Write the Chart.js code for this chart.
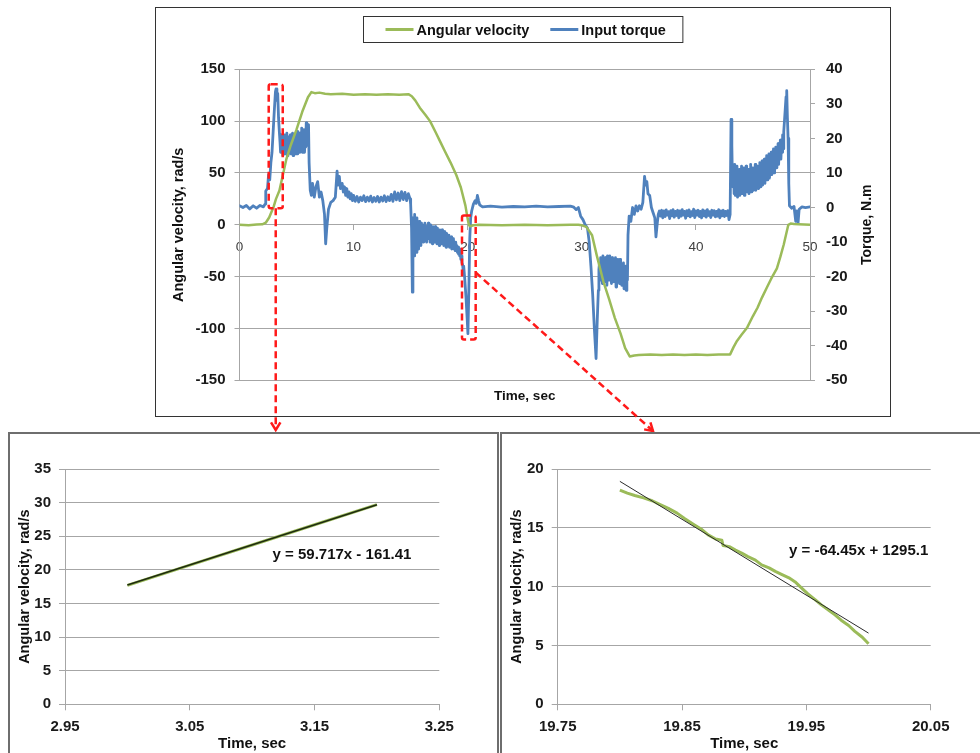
<!DOCTYPE html>
<html>
<head>
<meta charset="utf-8">
<script src="https://cdn.jsdelivr.net/npm/chart.js@4.4.1/dist/chart.umd.min.js"></script>
<style>
  html, body { margin: 0; padding: 0; background: #fff; width: 980px; height: 753px; overflow: hidden; }
  canvas { position: absolute; }
  .box { position: absolute; top: 432px; height: 340px; box-sizing: border-box; border: 2px solid #6e6e6e; }
  #leftBox { left: 8px; width: 491px; }
  #rightBox { left: 500px; width: 500px; }
</style>
</head>
<body>
<div class="box" id="leftBox"></div>
<div class="box" id="rightBox"></div>
<canvas id="mainChart" width="980" height="432" style="left:0;top:0"></canvas>
<canvas id="insetA" width="488" height="320" style="left:9px;top:433px"></canvas>
<canvas id="insetB" width="479" height="320" style="left:501px;top:433px"></canvas>
<script>
// ---- main chart data: [time s, value] ----
const velocityPoints = [[0, 0], [0.8, -0.5], [1.5, 0.3], [2.0, 0.5], [2.3, 2], [2.6, 7], [2.9, 15], [3.0, 17.7], [3.2, 25], [3.5, 33], [3.8, 48], [4.1, 63], [4.5, 77], [5.0, 92], [5.5, 109], [6.0, 123], [6.3, 128], [6.6, 127], [7.0, 127.5], [7.5, 126.5], [8.0, 126], [9.0, 126.5], [10.0, 125.5], [11.0, 126], [12.0, 125.5], [13.0, 126], [14.0, 125.5], [14.8, 126], [15.1, 124], [15.4, 120], [15.8, 113], [16.3, 106], [16.7, 100], [17.2, 89], [17.6, 80], [18.0, 71], [18.5, 60], [19.0, 48], [19.4, 36], [19.8, 18.5], [20.0, 5.5], [20.1, 0], [20.2, -1.5], [20.5, -0.5], [21.0, 0], [23.0, -0.5], [25.0, 0], [27.0, -0.5], [29.0, 0], [29.7, 0], [30.0, -0.5], [30.4, -2], [30.9, -10], [31.3, -29], [31.9, -55], [32.4, -72], [32.9, -90], [33.4, -105], [33.8, -119], [34.2, -127], [34.6, -126], [35.0, -125.5], [36.0, -125], [37.0, -125.5], [38.0, -125], [39.0, -125.5], [40.0, -125], [41.0, -125.5], [42.0, -125], [43.0, -125], [43.3, -118], [43.6, -112], [44.0, -106], [44.5, -99], [45.0, -88], [45.4, -80], [45.8, -70], [46.2, -61], [46.6, -52], [47.1, -42], [47.4, -31], [47.7, -19], [48.1, 0], [48.3, 1.2], [48.6, 0.8], [49.0, 0.5], [49.5, 0.2], [50.0, 0]]

const torquePoints = [
  [0.0, 0.5], [0.3, 0.0], [0.6, 0.6], [0.9, -0.4], [1.2, 0.5], [1.5, -0.2], [1.8, 0.6], [2.1, 0.2], [2.25, 1.0], [2.3, 4.8], [2.45, 5.5], [2.55, 9.5], [2.65, 8.0], [2.75, 13.0], [2.85, 16.0], [2.95, 22.0], [3.05, 28.0], [3.15, 33.5], [3.2, 34.3], [3.28, 31.0], [3.35, 33.0], [3.42, 26.0], [3.5, 21.5],
  [3.55, 19], [3.6, 16], [3.65, 21], [3.7, 17], [3.75, 20.5], [3.8, 15], [3.85, 19], [3.9, 16.5], [3.95, 21], [4.0, 15.5], [4.05, 20], [4.1, 17], [4.15, 21.5], [4.2, 15], [4.25, 19.5], [4.3, 16], [4.35, 20.5], [4.4, 16.5], [4.45, 21], [4.5, 15.5], [4.55, 20], [4.6, 17], [4.65, 21.5], [4.7, 15], [4.75, 20], [4.8, 16], [4.85, 21], [4.9, 15.5], [4.95, 19.5], [5.0, 16.5], [5.05, 22], [5.1, 15.5], [5.15, 20.5], [5.2, 17], [5.25, 21.5], [5.3, 16], [5.35, 20], [5.4, 16.5], [5.45, 23], [5.5, 16], [5.55, 21], [5.6, 17], [5.65, 22.5], [5.7, 16], [5.75, 21], [5.8, 17.5], [5.85, 24.5], [5.9, 18], [5.95, 22],
  [6.0, 21], [6.05, 24], [6.1, 13], [6.2, 5], [6.3, 3.5], [6.4, 7], [6.55, 3], [6.7, 6], [6.85, 7.5], [7.0, 3], [7.15, 4.5], [7.3, 2], [7.45, -2], [7.55, -10.5], [7.65, -6], [7.8, -0.5], [8.0, 1.5], [8.2, 2], [8.4, 3], [8.55, 10.5], [8.65, 6.5], [8.75, 9], [8.85, 5.5], [9.0, 7], [9.1, 4.5], [9.2, 6], [9.3, 3.5], [9.4, 5.5], [9.5, 3], [9.6, 4.5], [9.7, 2.5], [9.8, 4], [9.9, 2], [10.0, 3.5],
  [10.15, 1.8], [10.3, 3.2], [10.45, 1.6], [10.6, 3], [10.75, 2], [10.9, 3.4], [11.05, 1.7], [11.2, 3], [11.35, 1.9], [11.5, 3.3], [11.65, 1.6], [11.8, 2.9], [11.95, 1.8], [12.1, 3.2], [12.25, 1.6], [12.4, 3], [12.55, 1.9], [12.7, 3.4], [12.85, 1.7], [13.0, 3.1], [13.15, 2], [13.3, 3.8], [13.45, 1.8], [13.6, 4.5], [13.75, 2.2], [13.9, 4.2], [14.05, 2], [14.2, 4.6], [14.35, 2.3], [14.5, 4.4], [14.65, 2], [14.8, 4], [14.95, 2.5], [15.0, 1.0], [15.08, -6], [15.15, -24.5], [15.2, -3],
  [15.25, -3], [15.3, -14], [15.35, -2], [15.4, -12], [15.45, -4], [15.5, -13], [15.55, -3], [15.6, -10], [15.65, -5], [15.7, -12], [15.75, -4], [15.8, -10.5], [15.85, -5.5], [15.9, -11], [15.95, -4.5], [16.0, -9.5], [16.05, -5], [16.1, -10], [16.15, -6], [16.2, -9], [16.25, -4.5], [16.3, -9.5], [16.35, -5.5], [16.4, -10], [16.45, -6], [16.5, -8.5], [16.55, -4.5], [16.6, -9], [16.65, -6.5], [16.7, -10], [16.75, -5], [16.8, -9], [16.85, -6], [16.9, -10.5], [16.95, -5.5], [17.0, -9], [17.05, -6.5], [17.1, -10], [17.15, -5.5], [17.2, -9.5], [17.25, -7], [17.3, -10.5], [17.35, -6], [17.4, -9.5], [17.45, -7], [17.5, -11], [17.55, -6.5], [17.6, -10], [17.65, -7.5], [17.7, -10.5], [17.75, -6.5], [17.8, -10], [17.85, -8], [17.9, -11], [17.95, -7], [18.0, -10.5], [18.05, -8], [18.1, -11.5], [18.15, -7.5], [18.2, -10.5], [18.25, -8.5], [18.3, -11], [18.35, -8], [18.4, -11.5], [18.45, -9], [18.5, -11], [18.55, -8.5], [18.6, -12], [18.65, -9.5], [18.7, -11.5], [18.75, -9], [18.8, -12], [18.85, -10], [18.9, -12.5], [18.95, -10], [19.0, -12], [19.05, -11], [19.1, -13], [19.15, -11.5], [19.2, -13.5], [19.25, -12], [19.3, -14], [19.35, -13], [19.4, -15], [19.45, -14], [19.5, -16], [19.55, -16.5], [19.6, -18],
  [19.65, -17], [19.75, -21], [19.85, -26], [19.95, -32], [20.02, -36.5], [20.1, -24], [20.18, -9], [20.26, -3], [20.35, -1], [20.5, 1], [20.65, 2], [20.75, 1.2], [20.85, 3.5], [20.95, 2], [21.05, 0.8], [21.3, 0.2], [22, 0.4], [23, 0.1], [24, 0.3], [25, 0.2], [26, 0.4], [27, 0.2], [28, 0.3], [29, 0.4], [29.3, 0.1], [29.5, -0.6], [29.7, 0], [29.9, -2.5], [30.1, -3.5], [30.3, -5], [30.5, -6], [30.65, -10], [30.8, -17], [30.95, -25], [31.1, -35], [31.25, -43.7], [31.35, -33], [31.45, -24], [31.5, -18],
  [31.55, -16], [31.6, -21], [31.65, -14.5], [31.7, -20], [31.75, -15.5], [31.8, -22], [31.85, -14], [31.9, -19.5], [31.95, -16], [32.0, -21.5], [32.05, -14.5], [32.1, -20], [32.15, -15], [32.2, -22.5], [32.25, -14], [32.3, -19], [32.35, -16], [32.4, -21], [32.45, -14], [32.5, -20.5], [32.55, -15.5], [32.6, -22], [32.65, -14.5], [32.7, -19.5], [32.75, -16], [32.8, -21.5], [32.85, -15], [32.9, -20], [32.95, -14.5], [33.0, -23], [33.05, -16], [33.1, -20.5], [33.15, -15], [33.2, -21.5], [33.25, -16.5], [33.3, -22], [33.35, -15], [33.4, -20], [33.45, -16.5], [33.5, -22.5], [33.55, -17], [33.6, -21], [33.65, -16], [33.7, -23.5], [33.75, -17.5], [33.8, -22], [33.85, -17], [33.9, -24], [33.95, -18], [34.0, -21],
  [34.05, -8], [34.15, -2.5], [34.3, -4], [34.45, 0], [34.6, -2], [34.75, 0.5], [34.9, -1], [35.05, 0.5], [35.2, -0.5], [35.35, 1.5], [35.5, 9], [35.6, 6.5], [35.7, 7.5], [35.8, 4], [35.95, 3.5], [36.1, 0], [36.25, -1.5], [36.4, -3], [36.5, -8.5], [36.6, -5], [36.7, -2], [36.8, -1],
  [36.9, -2.5], [37.0, -0.8], [37.1, -3], [37.2, -1], [37.3, -2.6], [37.4, -0.7], [37.5, -2.2], [37.6, -1.2], [37.7, -3.2], [37.8, -0.9], [37.9, -2.4], [38.0, -0.6], [38.1, -2.8], [38.2, -1.1], [38.3, -2.3], [38.4, -0.8], [38.5, -3.0], [38.6, -1.0], [38.7, -2.5], [38.8, -0.6], [38.9, -2.2], [39.0, -1.1], [39.1, -3.1], [39.2, -0.9], [39.3, -2.4], [39.4, -0.7], [39.5, -2.7], [39.6, -1.2], [39.7, -2.3], [39.8, -0.5], [39.9, -2.9], [40.0, -1.0], [40.1, -2.2], [40.2, -0.8], [40.3, -2.6], [40.4, -1.1], [40.5, -3.0], [40.6, -0.7], [40.7, -2.4], [40.8, -1.0], [40.9, -2.8], [41.0, -0.6], [41.1, -2.3], [41.2, -1.2], [41.3, -2.9], [41.4, -0.8], [41.5, -2.2], [41.6, -0.9], [41.7, -2.7], [41.8, -1.1], [41.9, -2.5], [42.0, -0.6], [42.1, -3.0], [42.2, -1.0], [42.3, -2.4], [42.4, -0.8], [42.5, -2.6], [42.6, -1.1], [42.7, -2.3], [42.8, -0.9], [42.9, -3.5],
  [43.0, -2], [43.08, 25.5], [43.15, 18], [43.2, 8],
  [43.25, 6], [43.3, 11], [43.35, 4], [43.4, 12.5], [43.45, 3.5], [43.5, 10], [43.55, 5], [43.6, 12], [43.65, 3], [43.7, 9.5], [43.75, 4.5], [43.8, 11], [43.85, 3.5], [43.9, 10.5], [43.95, 5], [44.0, 12], [44.05, 4], [44.1, 9], [44.15, 5.5], [44.2, 11.5], [44.25, 3.5], [44.3, 10], [44.35, 5], [44.4, 12], [44.45, 4.5], [44.5, 9.5], [44.55, 5.5], [44.6, 11], [44.65, 4], [44.7, 10.5], [44.75, 6], [44.8, 12.5], [44.85, 4.5], [44.9, 10], [44.95, 5.5], [45.0, 11.5], [45.05, 5], [45.1, 10], [45.15, 6.5], [45.2, 12.5], [45.25, 5], [45.3, 11], [45.35, 6], [45.4, 12], [45.45, 5.5], [45.5, 10.5], [45.55, 7], [45.6, 13], [45.65, 6], [45.7, 11.5], [45.75, 7], [45.8, 13.5], [45.85, 6.5], [45.9, 12], [45.95, 8], [46.0, 14], [46.05, 7], [46.1, 12.5], [46.15, 8.5], [46.2, 15], [46.25, 8], [46.3, 13], [46.35, 9], [46.4, 15.5], [46.45, 8.5], [46.5, 14], [46.55, 10], [46.6, 16], [46.65, 9.5], [46.7, 14.5], [46.75, 11], [46.8, 17], [46.85, 10], [46.9, 15.5], [46.95, 12], [47.0, 17.5], [47.05, 11.5], [47.1, 16], [47.15, 13], [47.2, 18.5], [47.25, 12.5], [47.3, 17], [47.35, 14], [47.4, 19.5], [47.45, 14], [47.5, 18], [47.55, 16], [47.6, 21], [47.65, 17],
  [47.7, 22], [47.8, 27], [47.9, 32], [47.96, 33.8], [48.02, 26], [48.08, 20], [48.14, 7], [48.2, 0.5], [48.4, -0.2], [48.6, 0.3], [48.75, -4], [48.85, -1], [48.95, -4.5], [49.05, -0.5], [49.3, 0.2], [49.6, 0], [50, 0.2],
]

// zoomed windows marked on the main chart (time, angular velocity)
const zoomWindows = [
  { t0: 2.56, t1: 3.79, v0: 16, v1: 135.6, exitV: null },
  { t0: 19.5, t1: 20.7, v0: -110.7, v1: 9, exitV: -46 },
]

// ---- inset A: 2.95 - 3.25 s ----
const fitTimeA = [3.00, 3.05, 3.10, 3.15, 3.20]
const fitVelA = [17.7, 20.7, 23.7, 26.7, 29.7]
const trendTimeA = [3.00, 3.20]
const trendVelA = [17.74, 29.68]
const eqA = 'y = 59.717x - 161.41'

// ---- inset B: 19.75 - 20.05 s ----
const fitTimeB = [19.800, 19.806, 19.812, 19.819, 19.826, 19.832, 19.839, 19.846, 19.852, 19.860, 19.866, 19.871, 19.877, 19.882, 19.883, 19.888, 19.893, 19.898, 19.903, 19.909, 19.914, 19.920, 19.925, 19.930, 19.936, 19.941, 19.946, 19.951, 19.957, 19.962, 19.968, 19.973, 19.978, 19.984, 19.989, 19.995, 20.000]
const fitVelB = [18.2, 17.95, 17.75, 17.55, 17.3, 17.0, 16.65, 16.25, 15.8, 15.25, 14.85, 14.4, 14.05, 13.95, 13.5, 13.4, 13.1, 12.85, 12.55, 12.25, 11.85, 11.6, 11.3, 11.05, 10.75, 10.4, 9.9, 9.4, 8.9, 8.45, 8.0, 7.6, 7.15, 6.7, 6.2, 5.7, 5.15]
const trendTimeB = [19.80, 20.00]
const trendVelB = [18.95, 6.05]
const eqB = 'y = -64.45x + 1295.1'

const FONT = '"Liberation Sans", Arial, sans-serif'
const green = 'rgb(155, 187, 89)'
const blue = 'rgb(79, 129, 189)'
const gridColor = '#a6a6a6'
const tickColor = '#1a1a1a'

Chart.defaults.font.family = FONT
Chart.defaults.color = tickColor

const pts = (xs, ys) => xs.map((x, i) => ({ x, y: ys[i] }))
const pairs = list => list.map(([x, y]) => ({ x, y }))

function arrowHead(ctx, x0, y0, x1, y1) {
  const a = Math.atan2(y1 - y0, x1 - x0)
  const len = 9
  ctx.setLineDash([])
  ctx.beginPath()
  ctx.moveTo(x1 - len * Math.cos(a - 0.55), y1 - len * Math.sin(a - 0.55))
  ctx.lineTo(x1, y1)
  ctx.lineTo(x1 - len * Math.cos(a + 0.55), y1 - len * Math.sin(a + 0.55))
  ctx.stroke()
}

const mainOverlay = {
  id: 'mainOverlay',
  afterDraw(chart) {
    const ctx = chart.ctx
    const { x, y } = chart.scales
    const area = chart.chartArea
    ctx.save()

    // outer frame
    ctx.strokeStyle = '#333'
    ctx.lineWidth = 1
    ctx.strokeRect(155.5, 7.5, 735, 409)

    // legend with a frame
    ctx.font = 'bold 14.5px ' + FONT
    ctx.textBaseline = 'middle'
    ctx.textAlign = 'left'
    const items = chart.data.datasets.map(ds => ({ label: ds.label, color: ds.borderColor, w: ctx.measureText(ds.label).width }))
    const sample = 28, gap = 3, itemGap = 21, padL = 22, padR = 17
    let total = padL + padR + itemGap * (items.length - 1)
    items.forEach(it => { total += sample + gap + it.w })
    const bx = Math.round(523 - total / 2) + 0.5
    const by = 16.5, bh = 26
    ctx.strokeStyle = '#333'
    ctx.lineWidth = 1
    ctx.strokeRect(bx, by, total, bh)
    let lx = bx + padL
    const ly = by + bh / 2
    items.forEach(it => {
      ctx.strokeStyle = it.color
      ctx.lineWidth = 3
      ctx.beginPath()
      ctx.moveTo(lx, ly)
      ctx.lineTo(lx + sample, ly)
      ctx.stroke()
      ctx.fillStyle = '#111'
      ctx.fillText(it.label, lx + sample + gap, ly + 1)
      lx += sample + gap + it.w + itemGap
    })

    // right axis title, reading bottom to top
    ctx.font = 'bold 14px ' + FONT
    ctx.save()
    ctx.translate(867, (area.top + area.bottom) / 2)
    ctx.rotate(-Math.PI / 2)
    ctx.textAlign = 'center'
    ctx.fillStyle = '#111'
    ctx.fillText('Torque, N.m', 0, 0)
    ctx.restore()

    // red dashed zoom windows and arrows
    ctx.strokeStyle = '#ff1a1a'
    ctx.lineWidth = 2.5
    const tips = [[null, chart.height - 2], [653, chart.height - 1]]
    zoomWindows.forEach((w, i) => {
      const l = x.getPixelForValue(w.t0), r = x.getPixelForValue(w.t1)
      const t = y.getPixelForValue(w.v1), b = y.getPixelForValue(w.v0)
      ctx.setLineDash([7, 4])
      ctx.beginPath()
      ctx.roundRect(l, t, r - l, b - t, 2)
      ctx.stroke()
      let sx, sy, ex, ey
      if (w.exitV === null) {
        sx = (l + r) / 2; sy = b; ex = sx; ey = tips[i][1]
      } else {
        sx = r; sy = y.getPixelForValue(w.exitV); ex = tips[i][0]; ey = tips[i][1]
      }
      ctx.beginPath()
      ctx.moveTo(sx, sy)
      ctx.lineTo(ex, ey)
      ctx.stroke()
      arrowHead(ctx, sx, sy, ex, ey)
    })
    ctx.restore()
  }
}

new Chart(document.getElementById('mainChart'), {
  type: 'line',
  data: {
    datasets: [{
      label: 'Angular velocity',
      data: pairs(velocityPoints),
      borderColor: green,
      backgroundColor: green,
      borderWidth: 2.5,
      borderJoinStyle: 'round',
      pointRadius: 0,
      xAxisID: 'x',
      yAxisID: 'y',
    }, {
      label: 'Input torque',
      data: pairs(torquePoints),
      borderColor: blue,
      backgroundColor: blue,
      borderWidth: 2.8,
      borderJoinStyle: 'round',
      borderCapStyle: 'round',
      pointRadius: 0,
      xAxisID: 'x',
      yAxisID: 'y1',
    }]
  },
  options: {
    responsive: false,
    animation: false,
    layout: { padding: { left: 155, right: 89, top: 69.3, bottom: 15 } },
    plugins: { legend: { display: false }, tooltip: { enabled: false } },
    scales: {
      x: {
        type: 'linear', position: 'bottom', min: 0, max: 50,
        ticks: { display: false },
        grid: { display: false },
        border: { display: false },
        title: { display: true, text: 'Time, sec', color: '#111', font: { size: 13.5, weight: 'bold' }, padding: { top: 0, bottom: 13 } },
        afterFit: s => { s.height = 36.7 },
      },
      xZero: {
        type: 'linear', position: { y: 0 }, min: 0, max: 50,
        ticks: { stepSize: 10, padding: 9, color: '#404040', font: { size: 13.5 } },
        grid: { drawOnChartArea: false, tickLength: 5, color: gridColor },
        border: { color: gridColor },
      },
      y: {
        position: 'left', min: -150, max: 150,
        ticks: { stepSize: 50, padding: 9, font: { size: 15, weight: 'bold' } },
        grid: { color: gridColor, tickLength: 5 },
        border: { color: gridColor },
        title: { display: true, text: 'Angular velocity, rad/s', color: '#111', font: { size: 14.5, weight: 'bold' }, padding: { top: 15, bottom: 0 } },
        afterFit: s => { s.width = 84.5 },
      },
      y1: {
        position: 'right', min: -50, max: 40,
        ticks: { stepSize: 10, padding: 11, font: { size: 15, weight: 'bold' } },
        grid: { drawOnChartArea: false, tickLength: 5, color: gridColor },
        border: { color: gridColor },
        afterFit: s => { s.width = 81 },
      },
    }
  },
  plugins: [mainOverlay]
})

const equationLabel = {
  id: 'equationLabel',
  afterDatasetsDraw(chart, args, opts) {
    const ctx = chart.ctx
    ctx.save()
    ctx.font = 'bold 15px ' + FONT
    ctx.fillStyle = '#111'
    ctx.textAlign = 'center'
    ctx.textBaseline = 'middle'
    ctx.fillText(opts.text, chart.scales.x.getPixelForValue(opts.t), chart.scales.y.getPixelForValue(opts.v))
    ctx.restore()
  }
}

function makeInset(id, o) {
  return new Chart(document.getElementById(id), {
    type: 'line',
    data: {
      datasets: [{
        label: 'Angular velocity',
        data: pts(o.fitTime, o.fitVel),
        borderColor: green,
        borderWidth: 3,
        borderJoinStyle: 'round',
        pointRadius: 0,
        order: 2,
      }, {
        label: 'Linear fit',
        data: pts(o.trendTime, o.trendVel),
        borderColor: o.trendColor,
        borderWidth: o.trendWidth,
        pointRadius: 0,
        order: 1,
      }]
    },
    options: {
      responsive: false,
      animation: false,
      layout: { padding: { left: 0, right: o.padRight, top: 36, bottom: 0 } },
      plugins: {
        legend: { display: false },
        tooltip: { enabled: false },
        equationLabel: { text: o.eq, t: o.eqT, v: o.eqV },
      },
      scales: {
        x: {
          type: 'linear', min: o.xMin, max: o.xMax,
          ticks: { stepSize: 0.1, padding: 8, font: { size: 15, weight: 'bold' }, callback: v => v.toFixed(2) },
          grid: { drawOnChartArea: false, tickLength: 6, color: gridColor },
          border: { color: gridColor },
          title: { display: true, text: 'Time, sec', color: '#111', font: { size: 15, weight: 'bold' }, padding: { top: 0, bottom: 0 } },
          afterFit: s => { s.height = 48.7 },
        },
        y: {
          min: 0, max: o.yMax,
          ticks: { stepSize: 5, padding: 8, font: { size: 15, weight: 'bold' } },
          grid: { color: gridColor, tickLength: 6 },
          border: { color: gridColor },
          title: { display: true, text: 'Angular velocity, rad/s', color: '#111', font: { size: 14.5, weight: 'bold' }, padding: { top: o.titlePad, bottom: 0 } },
          afterFit: s => { s.width = o.yWidth },
        },
      }
    },
    plugins: [equationLabel]
  })
}

makeInset('insetA', {
  fitTime: fitTimeA, fitVel: fitVelA, trendTime: trendTimeA, trendVel: trendVelA,
  trendColor: '#1e2a10', trendWidth: 1.6,
  xMin: 2.95, xMax: 3.25, yMax: 35, padRight: 57.7, yWidth: 56, titlePad: 7.3,
  eq: eqA, eqT: 3.172, eqV: 22.2,
})

makeInset('insetB', {
  fitTime: fitTimeB, fitVel: fitVelB, trendTime: trendTimeB, trendVel: trendVelB,
  trendColor: '#2b2b2b', trendWidth: 1,
  xMin: 19.75, xMax: 20.05, yMax: 20, padRight: 49.3, yWidth: 56.7, titlePad: 6.8,
  eq: eqB, eqT: 19.992, eqV: 13.06,
})
</script>
</body>
</html>
